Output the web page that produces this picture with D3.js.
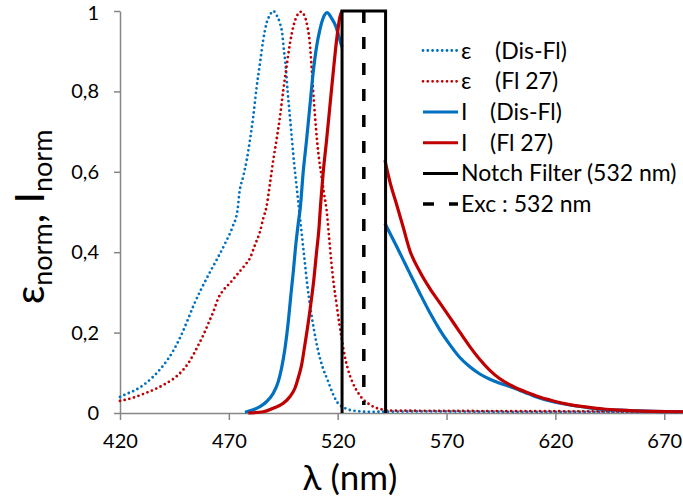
<!DOCTYPE html>
<html>
<head>
<meta charset="utf-8">
<script src="https://cdn.jsdelivr.net/npm/d3@7/dist/d3.min.js"></script>
<style>
  body { margin: 0; background: #fff; }
  text { font-family: Lato, "Open Sans", sans-serif; fill: #000; }
</style>
</head>
<body>
<div id="chart"></div>
<script>
// Absorption (epsilon) and emission (I) spectra, normalised — [lambda nm, value]
const epsDisFl = [
  [420,0.040],[422,0.045],[429,0.063],[435,0.089],[440,0.119],[444.5,0.155],[448,0.192],
  [451,0.230],[454,0.270],[457.3,0.308],[461,0.347],[464.8,0.385],[468.3,0.422],[471.7,0.463],
  [474,0.505],[474.8,0.546],[476.6,0.588],[478.2,0.629],[479.7,0.679],[481.2,0.737],[482.8,0.812],
  [484.3,0.870],[485.8,0.928],[487.3,0.969],[488.9,0.990],[490.4,1.000],[491.9,0.990],[493.5,0.969],
  [494.5,0.945],[495.3,0.903],[496,0.87],[497,0.80],[498,0.74],[499,0.68],[500,0.62],[501,0.57],
  [502,0.52],[503,0.47],[504,0.42],[505,0.37],[506,0.32],[507.5,0.26],[509,0.21],[511,0.155],
  [513,0.115],[515.5,0.08],[518,0.045],[520,0.025],[523,0.013],[527,0.006],[535,0.003],
  [560,0.004],[600,0.003],[640,0.003],[680,0.002]
];
const epsFl27 = [
  [420,0.030],[426,0.038],[431,0.048],[435.6,0.058],[440,0.070],[444.5,0.085],[448.3,0.103],
  [451.4,0.124],[454,0.148],[456,0.169],[458.3,0.194],[460.6,0.223],[462.9,0.252],[465.1,0.285],
  [467.4,0.305],[470.5,0.323],[473.6,0.343],[477.4,0.368],[479.7,0.385],[482,0.418],[484.3,0.451],
  [485.8,0.484],[487.3,0.513],[488.9,0.571],[490.4,0.629],[491.9,0.679],[493.5,0.737],[495,0.803],
  [496.5,0.861],[498.1,0.920],[499.6,0.961],[501.1,0.986],[503.1,0.998],[504.9,0.986],[506.1,0.961],
  [507.2,0.920],[508,0.861],[508.7,0.803],[509.6,0.737],[510.5,0.679],[511.5,0.629],[512.6,0.588],
  [513.7,0.546],[514.9,0.505],[516,0.44],[517,0.38],[518.2,0.32],[519.5,0.27],[520.8,0.22],
  [522,0.18],[523.3,0.14],[524.8,0.107],[527,0.074],[530,0.045],[535,0.02],[540,0.009],
  [545,0.006],[580,0.005],[640,0.004],[680,0.003]
];
const iDisFlLeft = [
  [477.4,0.002],[481.2,0.008],[484.3,0.016],[487.3,0.028],[490.4,0.049],[492.7,0.078],[494.2,0.111],
  [495.8,0.161],[497.3,0.227],[498.5,0.294],[499.6,0.351],[500.6,0.410],[501.8,0.468],[502.9,0.515],
  [504.1,0.596],[505.7,0.679],[507.2,0.762],[508.7,0.845],[510.3,0.911],[511.8,0.953],[513.3,0.982],
  [515.1,0.996],[517.2,0.982],[519.2,0.961],[521,0.928],[522,0.91]
];
const iDisFlRight = [
  [541.7,0.472],[544,0.447],[547.1,0.414],[550.1,0.381],[553.1,0.348],[557.7,0.298],[562.3,0.250],
  [566.9,0.207],[571.5,0.170],[576.1,0.138],[580.7,0.115],[585.3,0.097],[589.9,0.084],[594.5,0.074],
  [600.6,0.063],[608,0.047],[611.3,0.040],[619,0.028],[626.6,0.020],[634.3,0.014],[641.9,0.009],
  [649.6,0.007],[664.9,0.004],[680,0.003]
];
const iFl27Left = [
  [478.9,0.000],[485.8,0.003],[490.4,0.012],[495,0.024],[498.1,0.041],[500.3,0.061],[501.8,0.086],
  [503.4,0.119],[504.9,0.169],[506.1,0.211],[507.6,0.269],[509.1,0.335],[510.3,0.401],[511.4,0.459],
  [512.1,0.515],[513.3,0.596],[514.9,0.679],[516.4,0.762],[517.9,0.845],[519.5,0.928],[521,0.985],
  [522,1.0]
];
const iFl27Right = [
  [541.7,0.629],[544,0.575],[547.1,0.518],[550.1,0.462],[553.1,0.405],[557.7,0.352],[562.3,0.310],
  [566.9,0.274],[571.5,0.238],[576.1,0.201],[580.7,0.165],[585.3,0.133],[589.9,0.106],[594.5,0.085],
  [600.6,0.066],[608,0.049],[611.3,0.042],[619,0.030],[626.6,0.021],[634.3,0.015],[641.9,0.010],
  [649.6,0.007],[664.9,0.004],[680,0.003]
];

// Notch filter (532 ± 10 nm) and excitation line
const notchEdges = [522, 542];
const excitation = 532;

const xTicks = [420, 470, 520, 570, 620, 670];
const yTicks = [0, 0.2, 0.4, 0.6, 0.8, 1];

const legendLabels = [
  ['ε', '(Dis-Fl)'],
  ['ε', '(Fl 27)'],
  ['I', '(Dis-Fl)'],
  ['I', '(Fl 27)'],
  ['Notch Filter (532 nm)', ''],
  ['Exc : 532 nm', '']
];

const width = 683;
const height = 501;
const blue = '#0070C0';
const red = '#C00000';
const grey = '#868686';

const svg = d3.select('#chart')
  .append('svg')
  .attr('width', width)
  .attr('height', height);

svg.append('rect').attr('width', width).attr('height', height).attr('fill', '#fff');

const x = d3.scaleLinear().domain([420, 680]).range([120, 686]);
const y = d3.scaleLinear().domain([0, 1]).range([413, 11]);

// Axes
const xAxis = svg.append('g')
  .attr('transform', `translate(0,${y(0)})`)
  .call(d3.axisBottom(x).tickValues(xTicks).tickSize(7).tickPadding(14).tickSizeOuter(0));
const yAxis = svg.append('g')
  .attr('transform', `translate(${x(420)},0)`)
  .call(d3.axisLeft(y).tickValues(yTicks).tickSize(6).tickPadding(15).tickSizeOuter(0)
    .tickFormat(d => d3.format('~g')(d).replace('.', ',')));

[xAxis, yAxis].forEach(g => {
  g.select('.domain').attr('stroke', grey).attr('stroke-width', 1.5);
  g.selectAll('.tick line').attr('stroke', grey).attr('stroke-width', 1.5);
  g.selectAll('.tick text').attr('fill', '#000').style('font-size', '20px');
});
// keep the top label inside the picture
yAxis.selectAll('.tick text').filter(d => d === 1).attr('dy', '0.42em');

// Axis titles
svg.append('text')
  .attr('x', 350)
  .attr('y', 490)
  .attr('text-anchor', 'middle')
  .style('font-size', '35px')
  .text('λ (nm)');

const yTitle = svg.append('text')
  .attr('transform', 'translate(44,217) rotate(-90)')
  .attr('text-anchor', 'middle')
  .style('font-size', '41px');
yTitle.append('tspan').text('ε');
yTitle.append('tspan').attr('dy', 8).style('font-size', '27px').text('norm');
yTitle.append('tspan').attr('dy', -8).text(', I');
yTitle.append('tspan').attr('dy', 8).style('font-size', '27px').text('norm');

// Lines
const line = d3.line()
  .x(d => x(d[0]))
  .y(d => y(d[1]))
  .curve(d3.curveMonotoneX);

const plot = svg.append('g');

function dotted(data, color) {
  plot.append('path')
    .datum(data)
    .attr('d', line)
    .attr('fill', 'none')
    .attr('stroke', color)
    .attr('stroke-width', 2.8)
    .attr('stroke-linecap', 'round')
    .attr('stroke-dasharray', '0,4.8');
}

function solid(data, color) {
  plot.append('path')
    .datum(data)
    .attr('d', line)
    .attr('fill', 'none')
    .attr('stroke', color)
    .attr('stroke-width', 3.2)
    .attr('stroke-linejoin', 'round');
}

dotted(epsDisFl, blue);
dotted(epsFl27, red);
solid(iDisFlLeft, blue);
solid(iDisFlRight, blue);
solid(iFl27Left, red);
solid(iFl27Right, red);

// Notch filter box
plot.append('path')
  .datum([[notchEdges[0], 0], [notchEdges[0], 1], [notchEdges[1], 1], [notchEdges[1], 0]])
  .attr('d', d3.line().x(d => x(d[0])).y(d => y(d[1])))
  .attr('fill', 'none')
  .attr('stroke', '#000')
  .attr('stroke-width', 3);

// Excitation line
plot.append('line')
  .attr('x1', x(excitation)).attr('x2', x(excitation))
  .attr('y1', y(1)).attr('y2', y(0.02))
  .attr('stroke', '#000')
  .attr('stroke-width', 3.5)
  .attr('stroke-dasharray', '12,14');

// Legend
const legendStyles = [
  { color: blue, dash: '0,4.8', w: 2.8, cap: 'round' },
  { color: red, dash: '0,4.8', w: 2.8, cap: 'round' },
  { color: blue, dash: null, w: 3, cap: 'butt' },
  { color: red, dash: null, w: 3, cap: 'butt' },
  { color: '#000', dash: null, w: 3, cap: 'butt' },
  { color: '#000', dash: '11,15', w: 3.5, cap: 'butt' }
];
const legendY = [50.5, 81.3, 112, 142.7, 173.4, 204];
const parenX = [495, 495, 490, 490];

const legend = svg.append('g');
legendLabels.forEach((lab, i) => {
  const st = legendStyles[i];
  const ly = legendY[i];
  legend.append('line')
    .attr('x1', 423).attr('x2', 458)
    .attr('y1', ly).attr('y2', ly)
    .attr('stroke', st.color)
    .attr('stroke-width', st.w)
    .attr('stroke-linecap', st.cap)
    .attr('stroke-dasharray', st.dash);
  legend.append('text')
    .attr('x', 461)
    .attr('y', ly)
    .attr('dy', '0.35em')
    .style('font-size', '23px')
    .text(lab[0]);
  if (lab[1]) {
    legend.append('text')
      .attr('x', parenX[i])
      .attr('y', ly)
      .attr('dy', '0.35em')
      .style('font-size', '23px')
      .text(lab[1]);
  }
});
</script>
</body>
</html>
